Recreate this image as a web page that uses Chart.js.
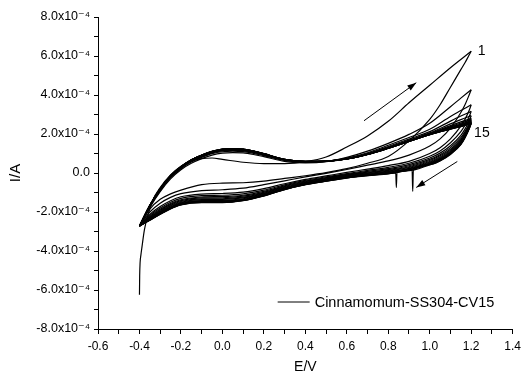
<!DOCTYPE html>
<html>
<head>
<meta charset="utf-8">
<script src="https://cdn.jsdelivr.net/npm/chart.js@4.4.1/dist/chart.umd.min.js"></script>
<style>
  html, body { margin: 0; padding: 0; background: #fff; }
  #wrap { width: 526px; height: 372px; }
</style>
</head>
<body>
<div id="wrap"><canvas id="cvChart" width="526" height="372"></canvas></div>
<script>
// currents are stored in units of 1e-4 A, potentials in V
const seriesName = 'Cinnamomum-SS304-CV15';

// first cycle starts from the open-circuit point, so it has its own grid
const cycle1AnodicE = [-0.400, -0.399, -0.397, -0.393, -0.388, -0.376, -0.360, -0.336, -0.300, -0.250, -0.200, -0.150, -0.100, -0.050, 0.000, 0.100, 0.200, 0.300, 0.400, 0.500, 0.600, 0.700, 0.800, 0.900, 1.000, 1.100, 1.200];
const cycle1AnodicI = [-6.24, -5.30, -4.60, -4.20, -3.80, -2.90, -2.20, -1.40, -0.75, -0.10, 0.35, 0.62, 0.74, 0.77, 0.70, 0.55, 0.48, 0.48, 0.58, 0.82, 1.33, 1.90, 2.65, 3.60, 4.50, 5.40, 6.24];

const anodicE = [-0.40, -0.35, -0.30, -0.25, -0.20, -0.15, -0.10, -0.05, 0.00, 0.05, 0.10, 0.15, 0.20, 0.30, 0.40, 0.50, 0.60, 0.70, 0.80, 0.90, 1.00, 1.10, 1.15, 1.20];
const cathodicE = [1.20, 1.19, 1.17, 1.15, 1.10, 1.05, 1.00, 0.90, 0.80, 0.70, 0.60, 0.50, 0.40, 0.30, 0.20, 0.10, 0.00, -0.10, -0.20, -0.25, -0.30, -0.35, -0.40];

// anodic sweeps, cycles 2..15
const anodicSweeps = [
  [-2.72, -1.76, -0.95, -0.30, 0.17, 0.50, 0.74, 0.92, 1.02, 1.05, 1.03, 0.95, 0.84, 0.60, 0.52, 0.58, 0.80, 1.12, 1.52, 1.98, 2.55, 3.40, 3.84, 4.27],
  [-2.72, -1.73, -0.90, -0.24, 0.22, 0.56, 0.80, 0.99, 1.09, 1.12, 1.10, 1.01, 0.89, 0.64, 0.55, 0.59, 0.76, 1.04, 1.42, 1.82, 2.24, 2.90, 3.20, 3.50],
  [-2.72, -1.70, -0.87, -0.21, 0.25, 0.60, 0.84, 1.03, 1.13, 1.16, 1.14, 1.05, 0.92, 0.66, 0.56, 0.60, 0.74, 1.00, 1.36, 1.74, 2.12, 2.66, 2.92, 3.16],
  [-2.72, -1.69, -0.85, -0.19, 0.27, 0.62, 0.86, 1.05, 1.16, 1.19, 1.16, 1.07, 0.94, 0.67, 0.57, 0.60, 0.73, 0.98, 1.32, 1.69, 2.06, 2.52, 2.74, 2.94],
  [-2.72, -1.68, -0.84, -0.18, 0.28, 0.64, 0.88, 1.06, 1.17, 1.20, 1.17, 1.09, 0.95, 0.68, 0.58, 0.60, 0.73, 0.97, 1.30, 1.66, 2.03, 2.43, 2.62, 2.80],
  [-2.72, -1.68, -0.83, -0.17, 0.29, 0.65, 0.89, 1.08, 1.18, 1.21, 1.19, 1.10, 0.96, 0.68, 0.59, 0.60, 0.72, 0.96, 1.29, 1.65, 2.01, 2.38, 2.56, 2.74],
  [-2.72, -1.67, -0.82, -0.16, 0.30, 0.65, 0.89, 1.08, 1.19, 1.22, 1.19, 1.10, 0.97, 0.69, 0.59, 0.61, 0.72, 0.96, 1.28, 1.64, 2.00, 2.35, 2.51, 2.69],
  [-2.72, -1.67, -0.82, -0.16, 0.30, 0.66, 0.90, 1.09, 1.20, 1.23, 1.20, 1.11, 0.97, 0.69, 0.59, 0.61, 0.72, 0.95, 1.28, 1.63, 1.99, 2.32, 2.48, 2.65],
  [-2.72, -1.67, -0.81, -0.15, 0.31, 0.67, 0.91, 1.10, 1.21, 1.24, 1.21, 1.12, 0.98, 0.69, 0.59, 0.61, 0.72, 0.95, 1.27, 1.63, 1.98, 2.30, 2.45, 2.62],
  [-2.72, -1.66, -0.81, -0.15, 0.31, 0.67, 0.91, 1.10, 1.21, 1.24, 1.21, 1.12, 0.98, 0.70, 0.60, 0.61, 0.72, 0.95, 1.27, 1.62, 1.98, 2.28, 2.43, 2.60],
  [-2.72, -1.66, -0.80, -0.14, 0.32, 0.67, 0.91, 1.10, 1.21, 1.24, 1.21, 1.12, 0.99, 0.70, 0.60, 0.61, 0.72, 0.95, 1.27, 1.62, 1.97, 2.27, 2.41, 2.58],
  [-2.72, -1.66, -0.80, -0.14, 0.32, 0.68, 0.92, 1.11, 1.22, 1.25, 1.22, 1.13, 0.99, 0.70, 0.60, 0.61, 0.72, 0.95, 1.27, 1.62, 1.97, 2.26, 2.40, 2.56],
  [-2.72, -1.66, -0.80, -0.14, 0.32, 0.68, 0.92, 1.11, 1.22, 1.25, 1.22, 1.13, 0.99, 0.70, 0.60, 0.61, 0.72, 0.95, 1.27, 1.62, 1.97, 2.25, 2.39, 2.55],
  [-2.72, -1.66, -0.80, -0.14, 0.32, 0.68, 0.92, 1.11, 1.22, 1.25, 1.22, 1.13, 0.99, 0.70, 0.60, 0.61, 0.72, 0.95, 1.27, 1.62, 1.97, 2.25, 2.38, 2.53]
];

// cathodic sweeps, cycles 1..15
const cathodicSweeps = [
  [6.24, 6.05, 5.65, 5.30, 4.40, 3.50, 2.75, 1.65, 0.85, 0.50, 0.22, 0.02, -0.14, -0.28, -0.42, -0.50, -0.52, -0.60, -0.88, -1.07, -1.35, -1.85, -2.72],
  [4.27, 4.00, 3.50, 3.10, 2.30, 1.75, 1.38, 0.92, 0.62, 0.40, 0.18, -0.02, -0.20, -0.40, -0.60, -0.78, -0.86, -0.90, -1.06, -1.25, -1.55, -2.00, -2.72],
  [3.50, 3.20, 2.75, 2.40, 1.75, 1.30, 1.00, 0.60, 0.38, 0.20, 0.03, -0.15, -0.33, -0.55, -0.80, -0.98, -1.05, -1.08, -1.22, -1.42, -1.72, -2.12, -2.72],
  [3.16, 2.88, 2.45, 2.12, 1.55, 1.13, 0.86, 0.50, 0.29, 0.13, -0.03, -0.20, -0.38, -0.61, -0.88, -1.07, -1.14, -1.16, -1.30, -1.50, -1.80, -2.18, -2.72],
  [2.94, 2.66, 2.25, 1.93, 1.40, 1.02, 0.77, 0.43, 0.22, 0.08, -0.07, -0.24, -0.42, -0.66, -0.94, -1.14, -1.21, -1.23, -1.37, -1.56, -1.86, -2.23, -2.72],
  [2.80, 2.53, 2.12, 1.81, 1.30, 0.94, 0.70, 0.37, 0.17, 0.04, -0.10, -0.27, -0.45, -0.70, -0.99, -1.19, -1.27, -1.28, -1.42, -1.61, -1.91, -2.27, -2.72],
  [2.74, 2.46, 2.05, 1.73, 1.22, 0.88, 0.64, 0.32, 0.13, 0.01, -0.12, -0.30, -0.48, -0.73, -1.03, -1.24, -1.32, -1.33, -1.46, -1.65, -1.95, -2.30, -2.72],
  [2.69, 2.41, 1.99, 1.67, 1.16, 0.82, 0.59, 0.28, 0.10, -0.02, -0.15, -0.32, -0.50, -0.76, -1.06, -1.28, -1.36, -1.37, -1.50, -1.69, -1.99, -2.33, -2.72],
  [2.65, 2.37, 1.95, 1.62, 1.11, 0.77, 0.55, 0.24, 0.07, -0.05, -0.17, -0.34, -0.52, -0.78, -1.09, -1.32, -1.40, -1.41, -1.53, -1.73, -2.02, -2.35, -2.72],
  [2.62, 2.34, 1.92, 1.58, 1.07, 0.73, 0.51, 0.21, 0.04, -0.07, -0.19, -0.36, -0.54, -0.80, -1.11, -1.35, -1.43, -1.44, -1.56, -1.76, -2.05, -2.37, -2.72],
  [2.60, 2.32, 1.89, 1.55, 1.04, 0.70, 0.49, 0.18, 0.02, -0.09, -0.21, -0.38, -0.56, -0.82, -1.13, -1.37, -1.46, -1.46, -1.58, -1.78, -2.07, -2.39, -2.72],
  [2.58, 2.30, 1.86, 1.52, 1.01, 0.67, 0.46, 0.16, 0.00, -0.11, -0.23, -0.40, -0.58, -0.83, -1.15, -1.39, -1.48, -1.48, -1.60, -1.80, -2.09, -2.40, -2.72],
  [2.56, 2.28, 1.84, 1.49, 0.99, 0.65, 0.44, 0.14, -0.02, -0.12, -0.24, -0.41, -0.59, -0.84, -1.16, -1.40, -1.50, -1.50, -1.62, -1.82, -2.10, -2.41, -2.72],
  [2.55, 2.27, 1.82, 1.47, 0.97, 0.63, 0.43, 0.13, -0.03, -0.13, -0.25, -0.42, -0.60, -0.85, -1.17, -1.41, -1.51, -1.51, -1.63, -1.83, -2.11, -2.42, -2.72],
  [2.53, 2.25, 1.80, 1.45, 0.95, 0.62, 0.42, 0.12, -0.04, -0.14, -0.26, -0.42, -0.60, -0.85, -1.18, -1.42, -1.52, -1.52, -1.64, -1.84, -2.12, -2.42, -2.72]
];

// two short current spikes on the reverse sweep
const glitchCycles = [14, 15];
const glitchE = [[0.921, 0.918, 0.915], [0.842, 0.839, 0.836]];
const glitchI = [[0.15, -0.94, 0.14], [0.02, -0.74, 0.01]];

// arrows and cycle labels, in data units
const arrowFrom = [[0.683, 2.68], [1.133, 0.59]];
const arrowTo = [[0.935, 4.63], [0.935, -0.74]];
const cycleLabels = ['1', '15'];
const cycleLabelAt = [[1.232, 6.24], [1.214, 2.06]];

Chart.defaults.font.family = "'Liberation Sans', Arial, 'DejaVu Sans', sans-serif";
Chart.defaults.color = '#000';

function toPoints(xs, ys) {
  return xs.map((x, i) => ({ x: x, y: ys[i] }));
}

function lineSet(points) {
  return {
    data: points,
    borderColor: '#000',
    borderWidth: 1.2,
    pointRadius: 0,
    fill: false,
    cubicInterpolationMode: 'monotone'
  };
}

const datasets = [];
datasets.push(lineSet(toPoints(cycle1AnodicE, cycle1AnodicI)));
anodicSweeps.forEach(ys => datasets.push(lineSet(toPoints(anodicE, ys))));
cathodicSweeps.forEach((ys, i) => {
  let pts = toPoints(cathodicE, ys);
  const g = glitchCycles.indexOf(i + 1);
  if (g >= 0) {
    pts = pts.concat(toPoints(glitchE[g], glitchI[g]));
    pts.sort((a, b) => b.x - a.x);
  }
  datasets.push(lineSet(pts));
});

function drawArrow(ctx, x1, y1, x2, y2) {
  ctx.beginPath();
  ctx.moveTo(x1, y1);
  ctx.lineTo(x2, y2);
  ctx.stroke();
  const a = Math.atan2(y2 - y1, x2 - x1);
  const len = 9, half = 3;
  ctx.beginPath();
  ctx.moveTo(x2, y2);
  ctx.lineTo(x2 - len * Math.cos(a) + half * Math.sin(a), y2 - len * Math.sin(a) - half * Math.cos(a));
  ctx.lineTo(x2 - len * Math.cos(a) - half * Math.sin(a), y2 - len * Math.sin(a) + half * Math.cos(a));
  ctx.closePath();
  ctx.fill();
}

const extras = {
  id: 'extras',
  afterDatasetsDraw(chart) {
    const ctx = chart.ctx;
    const xs = chart.scales.x, ys = chart.scales.y;
    const area = chart.chartArea;
    ctx.save();
    ctx.strokeStyle = '#000';
    ctx.fillStyle = '#000';
    ctx.lineWidth = 1;
    arrowFrom.forEach((p, i) => {
      const q = arrowTo[i];
      drawArrow(ctx, xs.getPixelForValue(p[0]), ys.getPixelForValue(p[1]),
        xs.getPixelForValue(q[0]), ys.getPixelForValue(q[1]));
    });
    ctx.font = "14px 'Liberation Sans', Arial, sans-serif";
    ctx.textAlign = 'left';
    ctx.textBaseline = 'middle';
    cycleLabels.forEach((t, i) => {
      ctx.fillText(t, xs.getPixelForValue(cycleLabelAt[i][0]), ys.getPixelForValue(cycleLabelAt[i][1]));
    });
    // legend inside the plot, lower right
    const lx = area.right - 235, ly = area.bottom - 27;
    ctx.beginPath();
    ctx.moveTo(lx, ly);
    ctx.lineTo(lx + 32, ly);
    ctx.stroke();
    ctx.font = "14.5px 'Liberation Sans', Arial, sans-serif";
    ctx.fillText(seriesName, lx + 37, ly + 0.5);
    ctx.restore();
  }
};

new Chart(document.getElementById('cvChart'), {
  type: 'line',
  data: { datasets: datasets },
  options: {
    responsive: false,
    animation: false,
    layout: { padding: { top: 17, right: 9, left: 0, bottom: 0 } },
    plugins: {
      legend: { display: false },
      tooltip: { enabled: false }
    },
    scales: {
      x: {
        type: 'linear',
        min: -0.6,
        max: 1.4,
        afterFit(scale) { scale.height = 43; },
        border: { display: true, color: '#000', width: 1 },
        grid: { drawOnChartArea: false, drawTicks: true, tickLength: 5, color: '#000' },
        ticks: {
          stepSize: 0.1,
          autoSkip: false,
          maxRotation: 0,
          padding: 5,
          font: { size: 12 },
          callback: v => (Math.round(v * 10) % 2 === 0 ? v.toFixed(1) : '')
        },
        title: {
          display: true,
          text: 'E/V',
          font: { size: 14, lineHeight: 1 },
          padding: { top: 0, bottom: -2 }
        }
      },
      y: {
        type: 'linear',
        min: -8,
        max: 8,
        afterFit(scale) { scale.width = 98; },
        border: { display: true, color: '#000', width: 1 },
        grid: { drawOnChartArea: false, drawTicks: true, tickLength: 4, color: '#000' },
        ticks: {
          stepSize: 1,
          autoSkip: false,
          padding: 4,
          font: { size: 12.5 },
          callback: v => {
            const r = Math.round(v);
            if (r % 2 !== 0) return '';
            return r === 0 ? '0.0' : r.toFixed(1) + 'x10\u207B\u2074';
          }
        },
        title: {
          display: true,
          text: 'I/A',
          font: { size: 15, lineHeight: 1 },
          padding: { top: 8, bottom: 0 }
        }
      }
    }
  },
  plugins: [extras]
});
</script>
</body>
</html>
